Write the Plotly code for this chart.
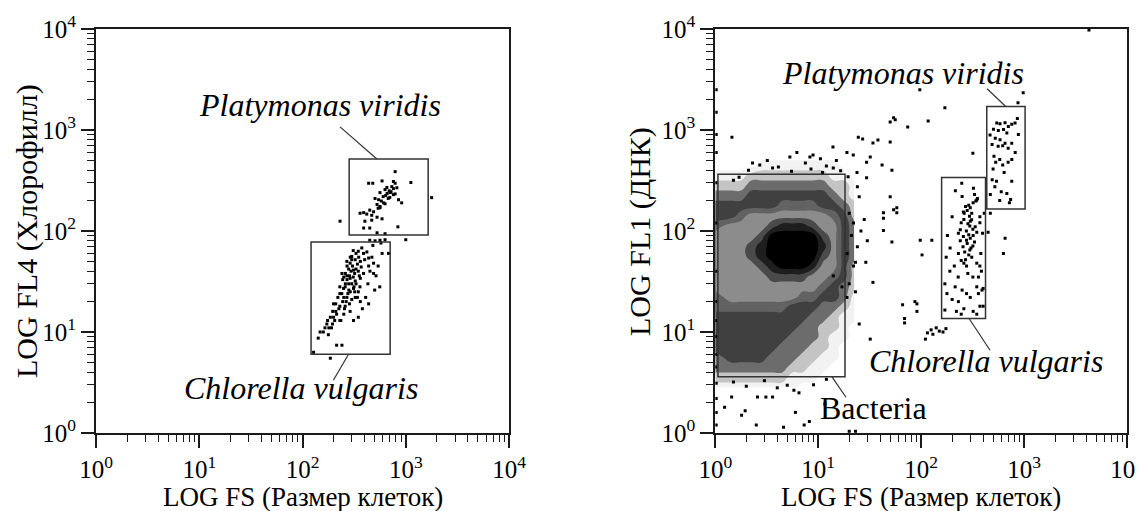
import plotly.graph_objects as go

# ---------------- data ----------------
tick_vals = [1, 10, 100, 1000, 10000]
tick_text = ["10<sup>0</sup>", "10<sup>1</sup>", "10<sup>2</sup>", "10<sup>3</sup>", "10<sup>4</sup>"]

# Left panel: LOG FS vs LOG FL4 (chlorophyll)
left_platymonas = [
    (789, 387), (437, 297), (479, 297), (589, 313), (759, 309), (789, 297), (1120, 302), (656, 270),
    (733, 275), (759, 263), (820, 268), (563, 240), (630, 257), (708, 240), (789, 233), (604, 219),
    (676, 210), (759, 229), (851, 204), (504, 210), (546, 204), (913, 190), (527, 183), (563, 175),
    (630, 186), (448, 161), (488, 155), (563, 170), (361, 150), (391, 152), (419, 147), (468, 143),
    (527, 137), (589, 132), (402, 125), (468, 128), (231, 125), (448, 107), (391, 107), (527, 96),
    (630, 94), (839, 110), (1780, 214), (448, 81), (504, 80), (563, 81), (630, 82), (1000, 82),
    (690, 250), (720, 245), (640, 225), (700, 215), (580, 198), (610, 190), (540, 168), (660, 235),
]
left_chlorella = [
    (375, 68), (347, 63), (390, 60), (437, 54), (300, 56), (324, 52), (363, 50), (269, 50), (289, 48),
    (488, 48), (540, 45), (590, 60), (680, 60), (241, 38), (251, 35), (269, 36), (312, 41), (347, 40),
    (390, 38), (437, 45), (488, 38), (289, 34), (324, 32), (363, 34), (259, 28), (281, 26), (312, 27),
    (347, 25), (230, 24), (251, 22), (269, 22), (300, 21), (324, 22), (363, 20), (409, 22), (437, 19),
    (380, 17), (210, 19), (230, 18), (259, 18), (196, 16), (214, 15), (251, 15), (289, 16), (186, 14),
    (205, 13), (230, 13), (172, 12), (191, 11), (159, 10), (148, 10), (178, 9.4), (142, 8.7), (214, 7.4),
    (241, 7.4), (312, 13), (347, 14), (515, 36), (560, 28), (500, 26), (480, 72), (575, 76), (186, 5.5),
    (128, 6.3), (300, 30), (310, 35), (320, 38), (330, 42), (280, 30), (290, 25), (270, 33), (295, 40),
    (305, 45), (315, 28), (285, 36), (275, 24), (330, 30), (340, 47), (350, 55), (300, 52), (260, 30),
    (250, 27), (240, 24), (265, 20), (285, 19), (230, 28), (220, 22), (210, 16), (200, 14), (225, 17),
    (245, 20), (255, 17), (235, 13), (195, 12), (180, 11), (165, 11), (175, 13), (200, 19), (320, 25),
    (340, 22), (360, 28), (370, 44), (355, 36), (330, 60), (310, 64), (400, 52), (420, 62), (450, 40),
    (470, 55), (430, 30), (280, 42), (260, 38), (245, 33), (270, 45), (290, 55),
]

# Right panel: LOG FS vs LOG FL1 (DNA)
right_chlorella = [
    (248, 297), (322, 265), (347, 203), (352, 210), (340, 198), (257, 154), (262, 150), (200, 138),
    (309, 129), (300, 125), (372, 138), (245, 121), (240, 103), (297, 112), (318, 104), (347, 97),
    (372, 121), (257, 88), (276, 81), (297, 65), (305, 68), (318, 71), (191, 68), (245, 51), (260, 48),
    (276, 45), (347, 48), (372, 45), (284, 38), (318, 35), (229, 35), (214, 28), (347, 28), (390, 26),
    (250, 26), (276, 24), (170, 30), (178, 24), (400, 27), (200, 21), (230, 20), (372, 18), (400, 18),
    (170, 16.5), (245, 15), (347, 15), (290, 180), (300, 170), (280, 160), (310, 150), (295, 140),
    (285, 118), (275, 100), (290, 92), (300, 85), (280, 75), (265, 62), (290, 58), (310, 55), (270, 52),
    (255, 70), (240, 80), (230, 95), (320, 90), (330, 78), (335, 110), (260, 130), (270, 175),
    (320, 190), (330, 230), (250, 220), (215, 250), (230, 60), (210, 45), (190, 40), (360, 35),
    (380, 60), (395, 95), (410, 150), (180, 90), (175, 55), (385, 40), (300, 22), (260, 17), (220, 16),
    (320, 16), (360, 24),
]
right_platymonas = [
    (543, 1170), (584, 1150), (653, 1180), (703, 1083), (759, 1140), (817, 1170), (504, 1020), (562, 990),
    (631, 1010), (680, 935), (467, 890), (525, 830), (584, 800), (653, 740), (489, 720), (560, 690),
    (620, 700), (700, 660), (759, 740), (510, 550), (580, 510), (530, 480), (620, 450), (700, 480),
    (760, 510), (490, 321), (540, 310), (520, 275), (600, 245), (680, 235), (740, 205), (759, 310),
    (470, 230), (580, 200), (720, 190), (860, 1300), (500, 410), (640, 380), (820, 600), (880, 900),
]
right_scatter = [
    (4270, 9800), (873, 1860), (980, 2340), (97, 2510), (170, 1660), (74, 1070), (56, 1260), (117, 1230),
    (50, 760), (318, 590), (43, 134), (58, 170), (52, 78), (98, 81), (127, 81), (102, 58), (43, 101),
    (654, 85), (630, 60), (447, 97), (470, 150), (66, 18.6), (91, 19), (69, 12.3), (115, 9.8), (125, 10.5),
    (140, 11), (163, 10), (87, 20), (69, 13.6), (91, 16), (110, 8.5), (130, 9.5), (150, 10.2), (174, 10.8),
    (34, 31), (32, 8.5), (23, 49), (29, 49), (14, 36), (17, 28), (1.44, 2.27), (2.57, 2.27), (3.1, 2.27),
    (3.6, 2.27), (5, 2.97), (5.8, 2.65), (6.5, 2.5), (2.5, 1.2), (4.6, 1.14), (7.3, 1.2), (1.23, 1.8),
    (1.95, 1.66), (11.6, 1.94), (8.2, 1.3), (20, 1.04), (23, 1.04), (54, 1320), (50, 1200), (1.45, 850),
    (24.5, 850), (27, 815), (34, 745), (38, 795), (8.9, 565), (8.3, 540), (13.9, 680), (19, 600),
    (21.9, 565), (29.5, 480), (32, 540), (41.7, 450), (52, 400), (50, 218), (54, 162), (58, 152), (43, 152),
    (19.5, 345), (23.8, 380), (29.5, 336), (24, 275), (25, 218), (6.2, 600), (5.3, 540), (2.3, 470),
    (2.7, 450), (3.6, 420), (1.5, 318), (1.7, 340), (20, 150), (22, 120), (21, 90), (24, 70), (19, 60),
    (26, 100), (22, 45), (28, 130), (30, 80), (20, 30), (19, 22), (23, 25), (25, 12), (1.02, 1.2),
    (1.02, 1.6), (1.02, 2.2), (1.02, 3.1), (1.02, 4.5), (1.02, 6), (1.02, 9), (1.02, 13), (1.02, 20),
    (1.02, 40), (1.02, 120), (1.02, 300), (1.02, 600), (1.02, 900), (1.02, 1500), (1.02, 2500),
    (1.5, 3.2), (2, 2.9), (3, 3.3), (4, 2.8), (9, 3.0), (12, 3.4), (1.8, 1.5), (6, 1.6),
    (3.2, 500), (4.1, 430), (7.5, 470), (10.5, 520), (12, 440), (15, 500), (2.1, 400), (5.5, 390),
    (8.5, 410), (11, 380), (14, 420), (16.5, 395),
]

# Bacteria cloud: estimated event-density level (0..9) on a log grid (cell centres)
bact_x = [1, 1.413, 1.778, 2.239, 2.818, 3.548, 4.467, 5.623, 7.079, 8.913, 11.22, 14.13, 17.78, 22.39]
bact_y = [2.818, 3.548, 4.467, 5.623, 7.079, 8.913, 11.22, 14.13, 17.78, 22.39, 28.18, 35.48, 44.67,
          56.23, 70.79, 89.13, 112.2, 141.3, 177.8, 223.9, 281.8, 354.8, 446.7, 562.3, 707.9]
bact_density_top_down = [
    [0, 0, 0, 0, 0, 0, 0, 0, 0, 0, 0, 0, 0, 0],
    [0, 0, 0, 0, 0, 0, 0, 0, 0, 0, 0, 0, 0, 0],
    [0, 0, 0, 0, 1, 1, 1, 1, 1, 1, 1, 1, 0, 0],
    [1, 1, 1, 2, 2, 2, 2, 2, 2, 2, 2, 1, 1, 0],
    [2, 2, 2, 3, 3, 3, 3, 3, 3, 3, 3, 2, 2, 1],
    [3, 3, 3, 4, 4, 4, 4, 4, 4, 4, 4, 3, 2, 1],
    [4, 4, 4, 4, 4, 4, 5, 5, 5, 5, 4, 4, 3, 2],
    [4, 4, 5, 6, 6, 6, 6, 6, 6, 6, 6, 5, 4, 2],
    [5, 6, 6, 6, 6, 7, 8, 8, 8, 7, 6, 6, 4, 3],
    [6, 6, 6, 6, 7, 9, 9, 9, 9, 9, 7, 6, 4, 3],
    [6, 6, 6, 7, 8, 9, 9, 9, 9, 9, 8, 6, 4, 3],
    [6, 6, 6, 7, 8, 9, 9, 9, 9, 9, 7, 6, 4, 3],
    [6, 6, 6, 6, 7, 8, 9, 9, 9, 8, 6, 6, 4, 2],
    [6, 6, 6, 6, 6, 7, 7, 7, 7, 6, 6, 5, 4, 2],
    [6, 6, 6, 6, 6, 6, 6, 6, 6, 6, 5, 4, 3, 2],
    [5, 6, 6, 6, 6, 6, 6, 6, 5, 5, 4, 4, 3, 1],
    [5, 5, 5, 5, 5, 5, 5, 4, 4, 4, 3, 3, 2, 1],
    [4, 4, 4, 4, 4, 4, 4, 4, 4, 3, 3, 2, 1, 1],
    [4, 4, 4, 4, 4, 4, 4, 4, 3, 3, 2, 2, 1, 0],
    [4, 4, 4, 4, 4, 4, 4, 3, 3, 3, 2, 1, 1, 0],
    [4, 4, 4, 4, 4, 4, 3, 3, 3, 2, 2, 1, 0, 0],
    [3, 4, 4, 4, 4, 3, 3, 3, 2, 2, 1, 1, 0, 0],
    [3, 3, 3, 3, 3, 3, 3, 2, 2, 1, 1, 0, 0, 0],
    [2, 2, 2, 2, 2, 2, 2, 1, 1, 1, 0, 0, 0, 0],
    [1, 1, 1, 1, 1, 1, 1, 1, 0, 0, 0, 0, 0, 0],
]

# Gates (x range, y range) in data units
left_gates = {"platymonas": ([283, 1648], [91.3, 517]), "chlorella": ([121, 706], [6.03, 77.8])}
right_gates = {"bacteria": ([1.06, 18.2], [3.6, 365]), "chlorella": ([158, 422], [13.6, 338]),
               "platymonas": ([434, 1023], [165, 1710])}

# ---------------- figure ----------------
FONT = "Liberation Serif"
INK = "#1a1a1a"

fig = go.Figure()

fig.add_trace(go.Contour(
    x=bact_x, y=bact_y, z=bact_density_top_down[::-1], zmin=0, zmax=9,
    autocontour=False, contours=dict(start=0.5, end=8.5, size=1, coloring="fill", showlines=False),
    line=dict(width=0, smoothing=1.3), showscale=False, hoverinfo="skip", xaxis="x2", yaxis="y2",
    colorscale=[[0, "#ffffff"], [1 / 9, "#f2f2f2"], [2 / 9, "#c4c4c4"], [3 / 9, "#6c6c6c"],
                [4 / 9, "#404040"], [5 / 9, "#626262"], [6 / 9, "#8c8c8c"], [7 / 9, "#4a4a4a"],
                [8 / 9, "#1e1e1e"], [1, "#000000"]],
))


def add_points(pairs, xa, ya):
    fig.add_trace(go.Scatter(
        x=[p[0] for p in pairs], y=[p[1] for p in pairs], mode="markers", xaxis=xa, yaxis=ya,
        marker=dict(symbol="square", size=3, color="black", line=dict(width=0)), hoverinfo="skip",
    ))


add_points(left_platymonas, "x", "y")
add_points(left_chlorella, "x", "y")
add_points(right_chlorella, "x2", "y2")
add_points(right_platymonas, "x2", "y2")
add_points(right_scatter, "x2", "y2")

minor_vals = [m * 10 ** k for k in range(4) for m in range(2, 10)]
axis_style = dict(
    type="log", range=[0, 4], showline=True, linecolor=INK, linewidth=2, mirror=True,
    ticks="outside", ticklen=13, tickwidth=1.5, tickcolor=INK, automargin=False,
    tickmode="array", tickvals=tick_vals, ticktext=tick_text, ticklabeloverflow="allow",
    tickfont=dict(family=FONT, size=25, color="black"),
    showgrid=False, zeroline=False,
    minor=dict(ticks="outside", ticklen=7, tickwidth=1.3, tickcolor=INK, tickmode="array",
               tickvals=minor_vals, showgrid=False),
)

# the page adds an 8 px body margin, so the figure is sized/offset to land on the reference frame
fig.update_layout(
    width=1135, height=503, margin=dict(l=88, r=16, t=21, b=78, pad=0, autoexpand=False),
    paper_bgcolor="white", plot_bgcolor="white", showlegend=False,
    font=dict(family=FONT, color="black"),
    xaxis=dict(axis_style, domain=[0, 0.4006], anchor="y"),
    yaxis=dict(axis_style, domain=[0, 1], anchor="x"),
    xaxis2=dict(axis_style, domain=[0.6007, 1], anchor="y2"),
    yaxis2=dict(axis_style, domain=[0, 1], anchor="x2"),
)

shapes = []
for xr, yr in left_gates.values():
    shapes.append(dict(type="rect", xref="x", yref="y", x0=xr[0], x1=xr[1], y0=yr[0], y1=yr[1],
                       line=dict(color="#333333", width=1.5), layer="above"))
for xr, yr in right_gates.values():
    shapes.append(dict(type="rect", xref="x2", yref="y2", x0=xr[0], x1=xr[1], y0=yr[0], y1=yr[1],
                       line=dict(color="#333333", width=1.5), layer="above"))
leaders = [("x", "y", 525, 517, 231, 1075), ("x", "y", 279, 6.03, 199, 3.33),
           ("x2", "y2", 664, 1710, 437, 2560), ("x2", "y2", 292, 13.6, 467, 6.6),
           ("x2", "y2", 13.6, 3.6, 18.6, 2.26)]
for xa, ya, x0, y0, x1, y1 in leaders:
    shapes.append(dict(type="line", xref=xa, yref=ya, x0=x0, y0=y0, x1=x1, y1=y1,
                       line=dict(color="#333333", width=1.2), layer="above"))
fig.update_layout(shapes=shapes)

ann = []


def label(text, x, y, size, angle=0):
    ann.append(dict(text=text, x=x, y=y, xref="paper", yref="paper", xanchor="center",
                    yanchor="middle", showarrow=False, textangle=angle,
                    font=dict(family=FONT, size=size, color="black")))


label("<i>Platymonas viridis</i>", 0.2173, 0.812, 32)
label("<i>Chlorella vulgaris</i>", 0.1988, 0.111, 32)
label("<i>Platymonas viridis</i>", 0.7832, 0.891, 32)
label("<i>Chlorella vulgaris</i>", 0.8637, 0.178, 32)
label("Bacteria", 0.7546, 0.062, 32)
label("LOG FS (Размер клеток)", 0.2003, -0.158, 27)
label("LOG FS (Размер клеток)", 0.8002, -0.158, 27)
label("LOG FL4 (Хлорофилл)", -0.0669, 0.5, 30, -90)
label("LOG FL1 (ДНК)", 0.5276, 0.5, 30, -90)
fig.update_layout(annotations=ann)

fig.write_html("out.html")
